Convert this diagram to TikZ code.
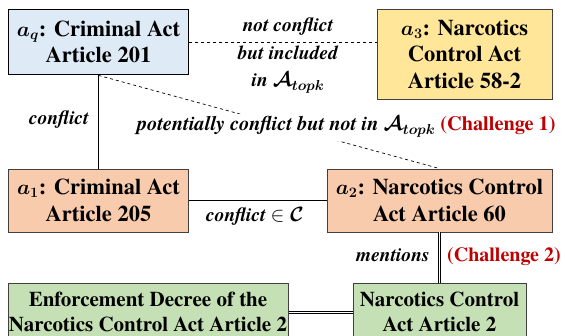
\documentclass[tikz,border=0pt]{standalone}
\usepackage{amsmath}
\usepackage{bm}
\usepackage{fontspec}
\setmainfont{texgyretermes}[Extension=.otf, UprightFont=*-regular, BoldFont=*-bold, ItalicFont=*-italic, BoldItalicFont=*-bolditalic]
\usetikzlibrary{calc}
\definecolor{qblue}{HTML}{DEEBF7}
\definecolor{yel}{HTML}{FFE699}
\definecolor{peach}{HTML}{F8CBAD}
\definecolor{grn}{HTML}{C5E0B4}
\definecolor{chred}{HTML}{C00000}
\begin{document}
\begin{tikzpicture}[x=1pt,y=-1pt,
  box/.style={draw=black!75, line width=0.9pt, align=center, inner sep=0pt,
    font=\fontsize{22.5}{26.5}\selectfont\bfseries},
  gbox/.style={draw=black!75, line width=0.9pt, fill=grn, inner sep=0pt},
  gtxt/.style={align=center, inner sep=0pt, font=\fontsize{21}{25}\selectfont\bfseries},
  lbl/.style={font=\fontsize{19.5}{27}\selectfont\bfseries\itshape, inner sep=0pt},
  red/.style={text=chred, font=\fontsize{20}{27}\selectfont\bfseries},
  dbl/.style={double, double distance=1.6pt, line width=0.8pt}]
\useasboundingbox (0,0) rectangle (566,336);
\clip (0,0) rectangle (566,336);
\node[box, fill=qblue, draw=black, line width=1.8pt, minimum width=180pt, minimum height=65pt] (aq) at (98.5,42)
  {$\bm{a_q}$: Criminal Act\\Article 201};
\node[box, fill=yel, minimum width=175pt, minimum height=90pt] (a3) at (464.5,54)
  {$\bm{a_3}$: Narcotics\\Control Act\\Article 58-2};
\node[box, fill=peach, minimum width=180pt, minimum height=63pt] (a1) at (98.5,200.5)
  {$\bm{a_1}$: Criminal Act\\Article 205};
\node[box, fill=peach, minimum width=225pt, minimum height=63pt] (a2) at (439.5,200.5)
  {$\bm{a_2}$: Narcotics Control\\Act Article 60};
\node[gbox, minimum width=173pt, minimum height=58pt, anchor=north] (nca) at (439.5,283) {};
\node[gbox, minimum width=280pt, minimum height=58pt, anchor=north west] (enf) at (8,283) {};
\node[gtxt, anchor=north] (ncat) at (439.5,292) {Narcotics Control\\Act Article 2};
\node[gtxt, anchor=north] (enft) at (148,292) {Enforcement Decree of the\\Narcotics Control Act Article 2};
% edges
\draw[dashed, line width=0.7pt] (aq.east) -- (aq.east -| a3.west);
\draw[line width=1.5pt] (aq) -- (a1);
\draw[dashed, line width=0.7pt] (aq.south) -- (a2.north);
\draw[line width=1.5pt] (a1) -- (a2);
\draw[dbl] (a2.south) -- (nca.north);
\draw[dbl] (enf.east |- nca) -- (nca.west);
% labels
\node[lbl, anchor=base] (l1) at (288,32) {not conflict};
\node[lbl, anchor=base] (l2) at (288,60) {but included};
\node[lbl, anchor=base] (l3) at (288,87) {in $\bm{\mathcal{A}_{topk}}$};
\node[lbl, anchor=base] (l4) at (59,125) {conflict};
\node[lbl, anchor=base west, fill=white, inner ysep=3pt, text height=14pt, text depth=7pt, font=\fontsize{20.3}{27}\selectfont\bfseries\itshape] (l5) at (137,131)
  {potentially conflict but not in $\bm{\mathcal{A}_{topk}}$ \textcolor{chred}{\upshape(Challenge 1)}};
\node[lbl, anchor=base] (l6) at (255,222) {conflict $\in\bm{\mathcal{C}}$};
\node[lbl, anchor=base east] (l7) at (430,262) {mentions};
\node[red, anchor=base west, inner sep=0pt] (l8) at (447,262) {(Challenge 2)};
\end{tikzpicture}
\end{document}
